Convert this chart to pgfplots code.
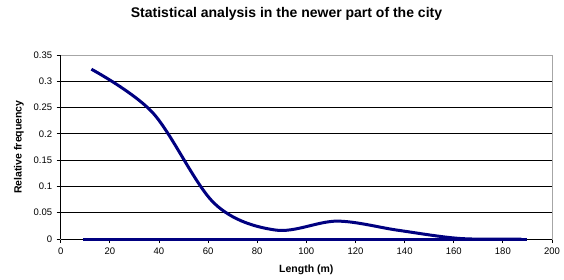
\documentclass[border=0pt]{standalone}
\usepackage{pgfplots}
\pgfplotsset{compat=1.18}
\usepackage{fontspec}
\setmainfont{Liberation Sans}
\definecolor{navy}{HTML}{000080}
\begin{document}
\begin{tikzpicture}
\path[use as bounding box] (-60.7pt,-40pt) rectangle (503.3pt,239pt);
\begin{axis}[
  at={(0pt,0pt)}, anchor=origin,
  scale only axis, width=491.3pt, height=184pt,
  xmin=0, xmax=200, ymin=0, ymax=0.35,
  xtick={0,20,...,200},
  ytick={0,0.05,0.1,0.15,0.2,0.25,0.3,0.35},
  yticklabels={0,0.05,0.1,0.15,0.2,0.25,0.3,0.35},
  xticklabels={0,20,40,60,80,100,120,140,160,180,200},
  tick label style={font=\fontsize{9.5}{11}\selectfont},
  ymajorgrids, grid style={black, line width=0.8pt},
  axis line style={draw=gray!70, line width=0.8pt},
  tick align=outside, tick pos=left, major tick length=4pt,
  tick style={black, line width=0.8pt},
  yticklabel style={xshift=-1pt},
  xticklabel style={yshift=-1pt},
  xlabel={\textbf{Length (m)}},
  ylabel={\textbf{Relative frequency}},
  label style={font=\fontsize{10.5}{12}\selectfont},
  xlabel style={at={(axis description cs:0.5,-0.17)}, anchor=center},
  ylabel style={at={(axis description cs:-0.085,0.5)}, anchor=center},
  title={\textbf{Statistical analysis in the newer part of the city}},
  title style={font=\fontsize{14}{16}\selectfont, at={(axis description cs:0.4596,1.19)}, anchor=center},
  clip=false,
]
\draw[black, line width=0.8pt] (rel axis cs:0,0) -- (rel axis cs:0,1);
\draw[black, line width=0.8pt] (rel axis cs:0,0) -- (rel axis cs:1,0);
\addplot[navy, line width=3pt, no marks] coordinates {(9,0) (190,0)};
\addplot[navy, line width=3pt, smooth, tension=0.55, no marks] coordinates {
(12.5,0.323) (37.5,0.240) (62.5,0.068) (87.5,0.017) (112.5,0.034) (137.5,0.0165) (162.5,0.001) (187.5,0)
};
\end{axis}
\end{tikzpicture}
\end{document}
